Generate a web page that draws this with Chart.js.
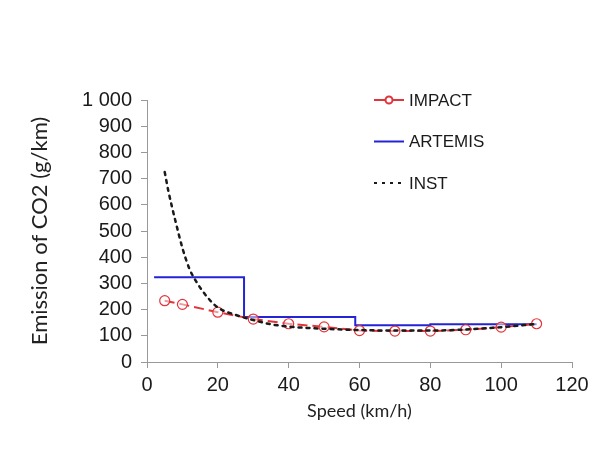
<!DOCTYPE html>
<html>
<head>
<meta charset="utf-8">
<script src="https://cdn.jsdelivr.net/npm/chart.js@4"></script>
<style>
  body { margin: 0; background: #fff; }
</style>
</head>
<body>
<canvas id="co2Chart" width="595" height="449"></canvas>
<script>
// values
const impactSpeed = [5, 10, 20, 30, 40, 50, 60, 70, 80, 90, 100, 110];
const impactCO2 = [234, 220, 190, 164, 146, 134, 120, 118, 118, 123, 133, 146];

const artemisSpeed = [2, 27.4, 58.8, 80, 110];
const artemisCO2 = [323, 172, 140, 144, 144];

const instSpeed = [5, 6, 7, 8, 10, 12, 14, 17, 20, 25, 30, 35, 40, 50, 60, 70, 80, 90, 100, 110];
const instCO2 = [725, 655, 595, 540, 435, 355, 305, 248, 208, 180, 160, 144, 135, 127, 122, 120, 120, 124, 133, 145];

const xTicks = [0, 20, 40, 60, 80, 100, 120];
const yTicks = [0, 100, 200, 300, 400, 500, 600, 700, 800, 900, 1000];

const toPoints = (xs, ys) => xs.map((x, i) => ({ x: x, y: ys[i] }));

const red = '#e2343b';
const blue = '#2424d6';
const black = '#1a1a1a';

// legend drawn in the plot, top right
const legendItems = [
    { text: 'IMPACT', color: red, dash: [], marker: true },
    { text: 'ARTEMIS', color: blue, dash: [], marker: false },
    { text: 'INST', color: black, dash: [3, 5], marker: false }
];

const insideLegend = {
    id: 'insideLegend',
    afterDraw(chart) {
        const c = chart.ctx;
        c.save();
        legendItems.forEach((item, i) => {
            const y = 100 + i * 41.5;
            c.beginPath();
            c.strokeStyle = item.color;
            c.lineWidth = 2;
            c.setLineDash(item.dash);
            c.moveTo(374, y);
            c.lineTo(404, y);
            c.stroke();
            c.setLineDash([]);
            if (item.marker) {
                c.beginPath();
                c.fillStyle = '#fff';
                c.arc(389, y, 3.5, 0, Math.PI * 2);
                c.fill();
                c.stroke();
            }
            c.fillStyle = '#1a1a1a';
            c.font = '17px "Liberation Sans", Arial, sans-serif';
            c.textBaseline = 'middle';
            c.fillText(item.text, 409, y + 1);
        });
        c.restore();
    }
};

const ctx = document.getElementById('co2Chart').getContext('2d');
const co2Chart = new Chart(ctx, {
    type: 'line',
    data: {
        datasets: [{
            label: 'IMPACT',
            data: toPoints(impactSpeed, impactCO2),
            borderColor: red,
            borderWidth: 2,
            borderDash: [10, 5],
            pointRadius: 5,
            pointBorderWidth: 1.2,
            pointBorderColor: red,
            pointBackgroundColor: 'rgba(255,255,255,0.5)',
            tension: 0,
            order: 2
        }, {
            label: 'ARTEMIS',
            data: toPoints(artemisSpeed, artemisCO2),
            borderColor: blue,
            borderWidth: 2,
            pointRadius: 0,
            stepped: 'before',
            order: 3
        }, {
            label: 'INST',
            data: toPoints(instSpeed, instCO2),
            borderColor: black,
            borderWidth: 2.5,
            borderDash: [3, 5],
            borderCapStyle: 'round',
            pointRadius: 0,
            cubicInterpolationMode: 'monotone',
            order: 1
        }]
    },
    options: {
        responsive: false,
        animation: false,
        layout: {
            padding: { left: 0, right: 23, top: 100, bottom: 0 }
        },
        plugins: {
            legend: { display: false },
            tooltip: { enabled: false }
        },
        scales: {
            x: {
                type: 'linear',
                min: 0,
                max: 120,
                afterBuildTicks: (axis) => { axis.ticks = xTicks.map(v => ({ value: v })); },
                afterFit: (axis) => { axis.height = 87; },
                grid: { drawOnChartArea: false, tickLength: 6, color: '#999' },
                border: { color: '#999', width: 1 },
                ticks: {
                    color: '#1a1a1a',
                    padding: 5,
                    autoSkip: false,
                    maxRotation: 0,
                    font: { family: '"Liberation Sans", Arial, sans-serif', size: 20 }
                },
                title: {
                    display: true,
                    text: 'Speed (km/h)',
                    color: '#222',
                    font: { family: 'Lato, sans-serif', size: 18 },
                    padding: { top: 4, bottom: 27 }
                }
            },
            y: {
                type: 'linear',
                min: 0,
                max: 1000,
                afterBuildTicks: (axis) => { axis.ticks = yTicks.map(v => ({ value: v })); },
                afterFit: (axis) => { axis.width = 147; },
                grid: { drawOnChartArea: false, tickLength: 6, color: '#999' },
                border: { color: '#999', width: 1 },
                ticks: {
                    color: '#1a1a1a',
                    padding: 9,
                    autoSkip: false,
                    font: { family: '"Liberation Sans", Arial, sans-serif', size: 20, lineHeight: 1 },
                    callback: (v) => v >= 1000 ? '1 000' : String(v)
                },
                title: {
                    display: true,
                    text: 'Emission of CO2 (g/km)',
                    color: '#222',
                    font: { family: 'Lato, sans-serif', size: 22 },
                    padding: { top: 27, bottom: 4 }
                }
            }
        }
    },
    plugins: [insideLegend]
});
</script>
</body>
</html>
